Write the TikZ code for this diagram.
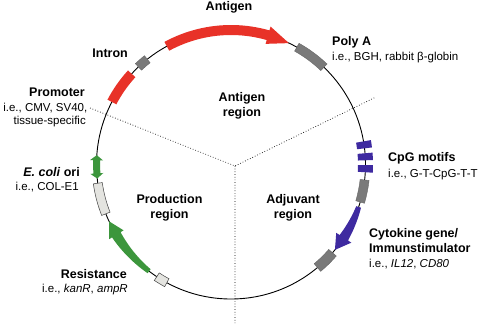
\documentclass[tikz,border=0pt]{standalone}
\usepackage{fontspec}
\setmainfont{Liberation Sans}
\usetikzlibrary{calc}
\definecolor{agred}{RGB}{232,50,40}
\definecolor{gn}{RGB}{60,150,60}
\definecolor{bl}{RGB}{62,42,160}
\definecolor{gy}{RGB}{122,122,122}
\definecolor{lgy}{RGB}{228,228,224}
\newcommand{\band}[5]{%
 \path[#1] (#2:#4pt) arc[start angle=#2,end angle=#3,radius=#4pt] -- (#3:#5pt) arc[start angle=#3,end angle=#2,radius=#5pt] -- cycle;}
\newcommand{\arcarrow}[7]{%
 \path[#1] plot[domain=#2:#3,samples=25] (\x:{134.5-#5-(#6-(#5))*(\x-(#2))/((#3)-(#2))}) -- (#3:{134.5-#7}) -- (#4:134.5) -- (#3:{134.5+#7}) -- plot[domain=#3:#2,samples=25] (\x:{134.5+#5+(#6-(#5))*(\x-(#2))/((#3)-(#2))}) -- cycle;}
\begin{document}
\begin{tikzpicture}[x=1pt,y=1pt,
  bt/.style={font=\fontsize{12.5}{15}\selectfont\bfseries, inner sep=0pt, text height=9pt, text depth=0pt},
  rt/.style={font=\fontsize{11.5}{14}\selectfont, inner sep=0pt, text height=8.2pt, text depth=0pt},
  divider/.style={dotted, line width=0.7pt},
  boxg/.style={fill=gy, draw=black!60, line width=0.4pt},
  boxl/.style={fill=lgy, draw=black!75, line width=0.5pt}]
\fill[white] (0,0) rectangle (480,-325);
\useasboundingbox (0,0) rectangle (480,-325);
\coordinate (J) at (235,-166);
\coordinate (L) at (90,-108);
\coordinate (R) at (376,-97);
\coordinate (B) at (235,-323);
\draw[divider] (L) -- (J) -- (R) (J) -- (B);
\begin{scope}[shift={(231,-164.5)}]
\draw[line width=0.9pt] (0,0) circle[radius=134.5pt];
% antigen arrow
\arcarrow{fill=agred}{118.5}{74}{64.5}{5}{5}{9}
% poly A
\band{boxg}{46.3}{60.7}{130}{139}
% intron
\band{boxg}{128.5}{133.5}{130}{139}
% promoter
\band{fill=agred}{137.6}{152.3}{129.5}{139.5}
% ori double arrow
\path[fill=gn] (176:134.5) -- (178.2:128) -- (178.2:131) -- (183.8:131) -- (183.8:128) -- (186:134.5) -- (183.8:141) -- (183.8:138) -- (178.2:138) -- (178.2:141) -- cycle;
\band{boxl}{188}{201.5}{130}{139}
% resistance
\arcarrow{fill=gn}{232.5}{211.5}{205}{2.5}{5}{8.5}
\band{boxl}{236.5}{241.5}{130}{139}
% CpG
\band{fill=bl}{6.9}{9.9}{127}{142}
\band{fill=bl}{1.8}{4.8}{127}{142}
\band{fill=bl}{-3.3}{-0.3}{127}{142}
\band{boxg}{-16.2}{-6.6}{130}{139}
% cytokine
\arcarrow{fill=bl}{-18.4}{-33}{-39.4}{2.5}{5}{9}
\band{boxg}{-50}{-41}{129.5}{139.5}
\end{scope}
\node[bt] (tAg) at (229,-6) {Antigen};
\node[bt,anchor=west] (tPA) at (332,-41) {Poly A};
\node[rt,anchor=west] (tPA2) at (332,-56) {i.e., BGH, rabbit β-globin};
\node[bt,anchor=east] (tIn) at (128,-53) {Intron};
\node[bt,anchor=east] (tPr) at (85,-92) {Promoter};
\node[rt,anchor=east] (tPr2) at (87.5,-107) {i.e., CMV, SV40,};
\node[rt,anchor=east] (tPr3) at (86,-120) {tissue-specific};
\node[bt] (tAR1) at (242,-97) {Antigen};
\node[bt] (tAR2) at (242,-112) {region};
\node[bt,anchor=west] (tCpG) at (388,-157) {CpG motifs};
\node[rt,anchor=west] (tCpG2) at (388,-173) {i.e., G-T-CpG-T-T};
\node[bt,anchor=east] (tOri) at (80,-172) {\textit{E. coli} ori};
\node[rt,anchor=east] (tOri2) at (79,-186) {i.e., COL-E1};
\node[bt] (tPR1) at (169.5,-199) {Production};
\node[bt] (tPR2) at (169.5,-214) {region};
\node[bt] (tAd1) at (293,-199) {Adjuvant};
\node[bt] (tAd2) at (293,-214) {region};
\node[bt,anchor=west] (tCy) at (369,-233) {Cytokine gene/};
\node[bt,anchor=west] (tCy2) at (369,-248) {Immunstimulator};
\node[rt,anchor=west] (tCy3) at (369,-263) {i.e., \textit{IL12}, \textit{CD80}};
\node[bt,anchor=east] (tRe) at (127,-274) {Resistance};
\node[rt,anchor=east] (tRe2) at (128,-288) {i.e., \textit{kanR}, \textit{ampR}};
\end{tikzpicture}
\end{document}
